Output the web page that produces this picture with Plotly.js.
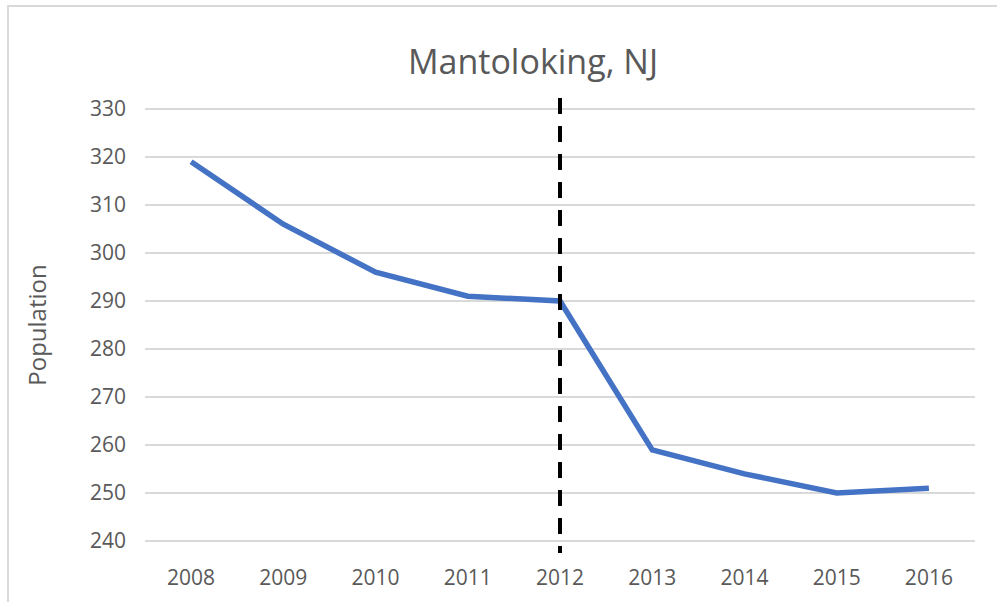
<!DOCTYPE html>
<html>
<head>
<meta charset="utf-8">
<script src="https://cdn.plot.ly/plotly-3.0.1.min.js"></script>
<style>
html,body{margin:0;padding:0;background:#fff;}
#chart{width:997px;height:602px;}
</style>
</head>
<body>
<div id="chart"></div>
<script>
// Data
const years = ['2008','2009','2010','2011','2012','2013','2014','2015','2016'];
const population = [319, 306, 296, 291, 290, 259, 254, 250, 251];
const markerYear = '2012';
const yTicks = [240, 250, 260, 270, 280, 290, 300, 310, 320, 330];

const W = 997, H = 602;
const L = 145, R = 22, T = 107, B = 59;
const pw = W - L - R, ph = H - T - B;
const px = v => (v - L) / pw;        // pixel -> paper x
const py = v => (H - B - v) / ph;    // pixel -> paper y

const trace = {
  x: years,
  y: population,
  type: 'scatter',
  mode: 'lines',
  line: {color: '#4472C4', width: 5.5},
  hoverinfo: 'x+y'
};

const markerIndex = years.indexOf(markerYear);

const layout = {
  width: W, height: H,
  margin: {l: L, r: R, t: T, b: B},
  paper_bgcolor: '#ffffff',
  plot_bgcolor: '#ffffff',
  showlegend: false,
  font: {family: 'Open Sans, sans-serif', color: '#595959'},
  title: {
    text: 'Mantoloking, NJ',
    font: {family: 'Open Sans, sans-serif', size: 34, color: '#595959'},
    xref: 'paper', x: px(533), xanchor: 'center',
    yref: 'container', y: 1 - 62 / H, yanchor: 'middle'
  },
  xaxis: {
    type: 'category',
    range: [-0.5, 8.5],
    showgrid: false,
    zeroline: false,
    showline: false,
    ticks: '',
    tickfont: {size: 21, color: '#595959'},
    ticklabelstandoff: 20,
    fixedrange: true
  },
  yaxis: {
    range: [239.6, 330.4],
    tickvals: yTicks,
    showgrid: true,
    gridcolor: '#d9d9d9',
    gridwidth: 1.5,
    zeroline: false,
    showline: false,
    ticks: '',
    tickfont: {size: 21, color: '#595959'},
    ticklabelstandoff: 18,
    title: {text: 'Population', font: {size: 24, color: '#595959'}, standoff: 36},
    automargin: false,
    fixedrange: true
  },
  shapes: [
    {
      type: 'line', xref: 'x', yref: 'paper',
      x0: markerIndex, x1: markerIndex,
      y0: py(98), y1: py(553),
      line: {color: '#000000', width: 4, dash: '16px,12px'},
      layer: 'above'
    },
    {
      type: 'rect', xref: 'paper', yref: 'paper',
      x0: px(8), x1: px(1100), y0: py(700), y1: py(6),
      line: {color: '#d9d9d9', width: 2},
      fillcolor: 'rgba(0,0,0,0)',
      layer: 'below'
    }
  ]
};

Plotly.newPlot('chart', [trace], layout, {displayModeBar: false, staticPlot: true});
</script>
</body>
</html>
